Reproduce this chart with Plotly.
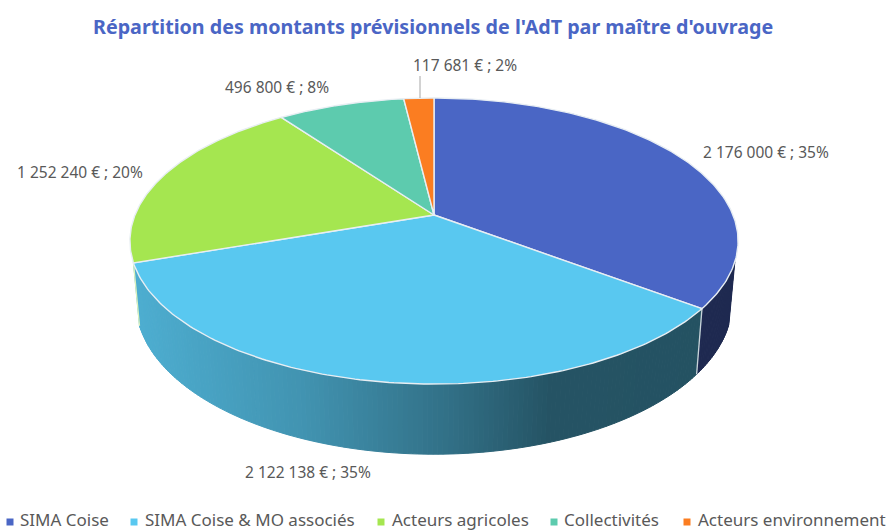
import numpy as np
import plotly.graph_objects as go

categories = ["SIMA Coise", "SIMA Coise & MO associés", "Acteurs agricoles", "Collectivités", "Acteurs environnement"]
amounts = [2176000, 2122138, 1252240, 496800, 117681]
percent_labels = ["35%", "35%", "20%", "8%", "2%"]
colors = ["#4A66C5", "#59C8F0", "#A5E650", "#5DCBAE", "#FB7D21"]
title_text = "Répartition des montants prévisionnels de l'AdT par maître d'ouvrage"

# Layout constants (pixel space of the 887x530 page)
CX, CY, BX, AY, K = 434, 215, 299, 138.3, 0.182
BOT_S, BOT_DY, BOT_YS = 0.98, 60, 1.06
WALL_LIMIT = -0.32
label_pos = [(766, 152), (308, 472), (80, 172), (277, 87), (465, 65)]
legend_marker_x = [10, 134, 381, 554, 687]
legend_text_x = [20, 145, 392, 564, 698]
LEGEND_MARKER_Y = 522
LEGEND_TEXT_Y = 519
FONT = "Noto Sans, Open Sans, sans-serif"
TEXT = "#595959"


def top(theta):
    x, y = np.sin(theta), np.cos(theta)
    d = 1 + K * y
    return BX * x / d, -AY * y / d


def to_page(dx, dy):
    return CX + dx, CY + dy


def bottom(theta):
    dx, dy = top(theta)
    return CX + BOT_S * dx, CY + BOT_DY + BOT_YS * dy


def shade_hex(hex_color, px):
    f = np.interp(px, [134, 300, 450, 550, 900], [0.87, 0.74, 0.56, 0.42, 0.40])
    r, g, b = (int(hex_color[i:i + 2], 16) for i in (1, 3, 5))
    return f"rgb({int(r * f)},{int(g * f)},{int(b * f)})"


values = np.array(amounts, dtype=float)
edges = np.concatenate([[0], np.cumsum(values) / values.sum()]) * 2 * np.pi

fig = go.Figure()

# Side wall: only the near part of the rim is visible
for i, col in enumerate(colors):
    a0, a1 = edges[i], edges[i + 1]
    n = max(2, int((a1 - a0) / np.radians(0.8)))
    ts = np.linspace(a0, a1, n + 1)
    for t0, t1 in zip(ts[:-1], ts[1:]):
        if np.cos((t0 + t1) / 2) > WALL_LIMIT:
            continue
        tx0, ty0 = to_page(*top(t0))
        tx1, ty1 = to_page(*top(t1))
        bx0, by0 = bottom(t0)
        bx1, by1 = bottom(t1)
        c = shade_hex(col, (tx0 + tx1) / 2)
        fig.add_trace(go.Scatter(
            x=[tx0, tx1, bx1, bx0, tx0], y=[ty0, ty1, by1, by0, ty0],
            mode="lines", fill="toself", fillcolor=c,
            line=dict(color=c, width=1), hoverinfo="skip", showlegend=False,
        ))

# Seams on the wall: grey between the first two slices, pale green at the left end
seam_colors = ["#C9D3DA", "#DDF3BE"]
for e, seam in zip(edges[1:3], seam_colors):
    tx, ty = to_page(*top(e))
    bx, by = bottom(e)
    fig.add_trace(go.Scatter(x=[tx, bx], y=[ty, by], mode="lines",
                             line=dict(color=seam, width=1.3),
                             hoverinfo="skip", showlegend=False))

# Top face
for i, col in enumerate(colors):
    ts = np.linspace(edges[i], edges[i + 1], 160)
    dx, dy = top(ts)
    xs = np.concatenate([[CX], CX + dx, [CX]])
    ys = np.concatenate([[CY], CY + dy, [CY]])
    fig.add_trace(go.Scatter(x=xs, y=ys, mode="lines", fill="toself", fillcolor=col,
                             line=dict(color="#E8EEF3", width=1.4),
                             name=categories[i], showlegend=False,
                             hovertemplate=f"{categories[i]}<extra></extra>"))

# Leader line for the smallest slice
fig.add_trace(go.Scatter(x=[420, 420], y=[76, 98], mode="lines",
                         line=dict(color="#A6A6A6", width=1),
                         hoverinfo="skip", showlegend=False))

# Legend squares
for i, col in enumerate(colors):
    fig.add_trace(go.Scatter(x=[legend_marker_x[i]], y=[LEGEND_MARKER_Y], mode="markers",
                             marker=dict(symbol="square", size=7, color=col),
                             hoverinfo="skip", showlegend=False))

annotations = []
for i, amount in enumerate(amounts):
    txt = f"{amount:,}".replace(",", " ") + " € ; " + percent_labels[i]
    annotations.append(dict(x=label_pos[i][0], y=label_pos[i][1], text=txt, showarrow=False,
                            xanchor="center", yanchor="middle",
                            font=dict(family=FONT, size=15.5, color=TEXT)))
for i, name in enumerate(categories):
    annotations.append(dict(x=legend_text_x[i], y=LEGEND_TEXT_Y, text=name, showarrow=False,
                            xanchor="left", yanchor="middle", xshift=-2,
                            font=dict(family=FONT, size=17, color=TEXT)))
annotations.append(dict(x=433, y=26, text=f"<b>{title_text}</b>", showarrow=False,
                        xanchor="center", yanchor="middle",
                        font=dict(family=FONT, size=19.7, color="#4A66C5")))

fig.update_layout(
    width=887, height=530, margin=dict(l=0, r=0, t=0, b=0),
    paper_bgcolor="white", plot_bgcolor="white",
    xaxis=dict(range=[0, 887], visible=False, fixedrange=True),
    yaxis=dict(range=[530, 0], visible=False, fixedrange=True),
    annotations=annotations,
)
fig.write_html("out.html", config={"displayModeBar": False},
               post_script="document.body.style.margin='0';document.body.style.overflow='hidden';")
